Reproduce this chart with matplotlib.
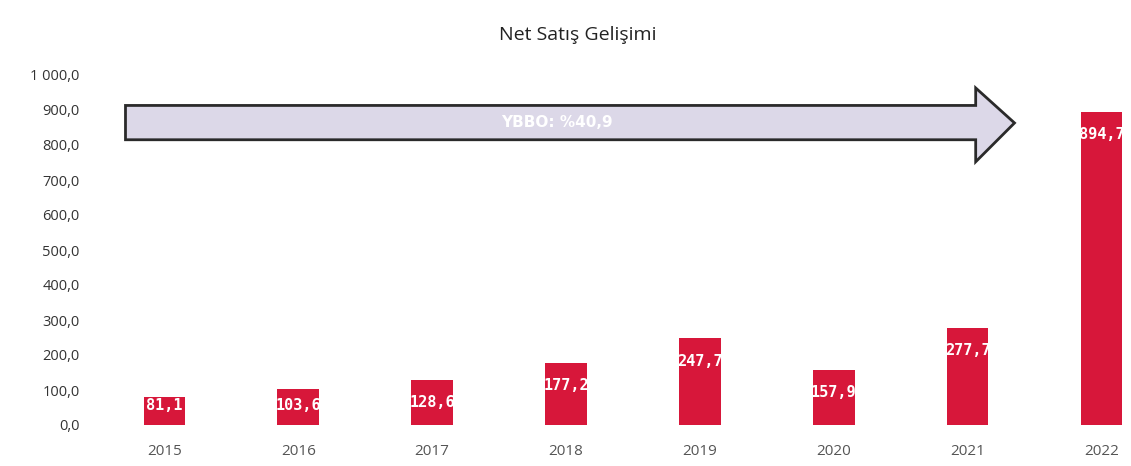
import matplotlib.pyplot as plt
from matplotlib.patches import Polygon
from matplotlib.ticker import FuncFormatter

years = ["2015", "2016", "2017", "2018", "2019", "2020", "2021", "2022"]
net_sales = [81.1, 103.6, 128.6, 177.2, 247.7, 157.9, 277.7, 894.7]
yticks = [0, 100, 200, 300, 400, 500, 600, 700, 800, 900, 1000]
cagr_text = "YBBO: %40,9"

RED = "#d7173a"

W, H = 1131, 466
fig = plt.figure(figsize=(W / 100, H / 100), dpi=100)
ax = fig.add_axes([88 / W, (H - 425) / H, (W - 88) / W, 350 / H])

x = list(range(len(years)))
bars = ax.bar(x, net_sales, width=0.31, color=RED, zorder=2)

def tr(v):
    # 1 000,0 style
    s = f"{v:,.1f}".replace(",", " ").replace(".", ",")
    return s

px_per_unit = 350 / 1000
for b, v in zip(bars, net_sales):
    off_px = min(23, v * px_per_unit - 19)   # short bars keep label inside
    ax.annotate(tr(v), (b.get_x() + b.get_width() / 2, v), xytext=(0, -off_px * 0.72),
                textcoords="offset points", ha="center", va="center",
                color="white", fontsize=11, fontweight="bold",
                family="DejaVu Sans Mono", zorder=3)

ax.set_xlim(-0.57, 7.22)
ax.set_ylim(0, 1000)
ax.set_xticks(x)
ax.set_xticklabels(years, color="#555555", fontsize=11, family="Open Sans")
ax.set_yticks(yticks)
ax.yaxis.set_major_formatter(FuncFormatter(lambda v, p: tr(v)))
for lbl in ax.get_yticklabels():
    lbl.set_family("Open Sans")
    lbl.set_fontsize(10.5)
    lbl.set_color("#333333")
ax.tick_params(axis="both", length=0)
ax.tick_params(axis="x", pad=14)
ax.tick_params(axis="y", pad=6)
for s in ax.spines.values():
    s.set_visible(False)

# CAGR arrow
x0, xb, xt = -0.29, 6.06, 6.35
arrow = Polygon([(x0, 815), (xb, 815), (xb, 752), (xt, 863), (xb, 963),
                 (xb, 913), (x0, 913)], closed=True,
                facecolor="#dcd8e8", edgecolor="#2a2a2a", linewidth=2, zorder=1)
ax.add_patch(arrow)
ax.text(2.93, 863, cagr_text, ha="center", va="center", color="white",
        fontsize=11, fontweight="bold", family="DejaVu Sans", zorder=3)

fig.text(578 / W, 1 - 35 / H, "Net Satış Gelişimi", ha="center", va="center",
         fontsize=14, color="#222222", family="Open Sans")

fig.savefig("out.png", dpi=100, facecolor="white")
